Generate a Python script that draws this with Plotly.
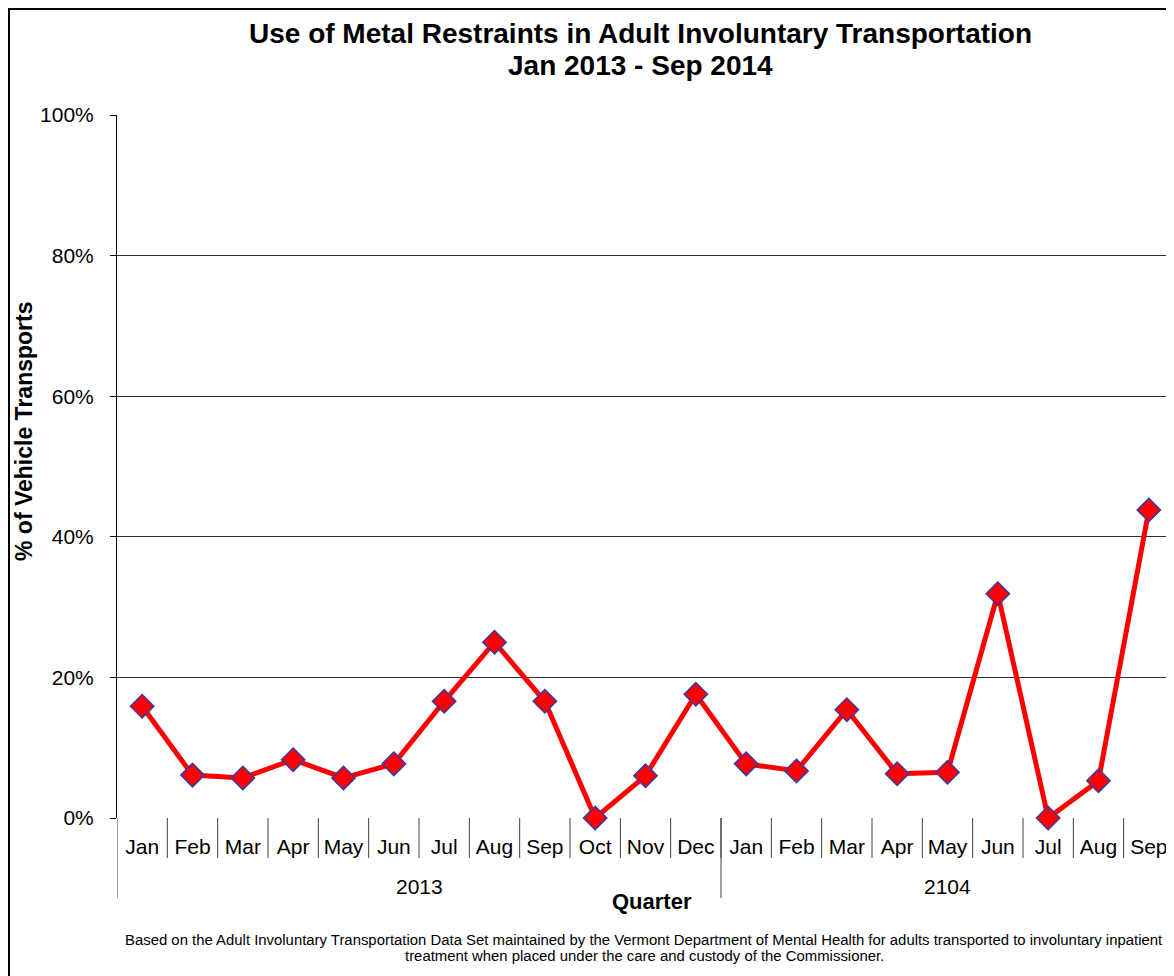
import plotly.graph_objects as go

years = ["2013", "2104"]
year_counts = [12, 9]
months = ["Jan", "Feb", "Mar", "Apr", "May", "Jun", "Jul", "Aug", "Sep", "Oct", "Nov", "Dec",
          "Jan", "Feb", "Mar", "Apr", "May", "Jun", "Jul", "Aug", "Sep"]
pct_metal = [0.159, 0.061, 0.057, 0.083, 0.057, 0.077, 0.166, 0.250, 0.166, 0.0, 0.060, 0.176,
             0.077, 0.067, 0.154, 0.063, 0.065, 0.319, 0.0, 0.053, 0.438]

FONT = "Liberation Sans, Arial, sans-serif"
OFF = 8  # page body margin
L, T, PW, PH = 117 - OFF, 115 - OFF, 1057, 703  # plot area in figure px


def px_x(x):
    # x given in page pixels
    return (x - OFF - L) / PW


def px_y(y):
    return (T + PH - (y - OFF)) / PH


idx = list(range(len(months)))

fig = go.Figure(
    data=go.Scatter(
        x=idx,
        y=pct_metal,
        mode="lines+markers",
        line={"color": "#ff0000", "width": 5},
        marker={"symbol": "diamond", "size": 18, "color": "#ff0000",
                "line": {"color": "#3a3aa0", "width": 1.5}},
        cliponaxis=False,
    )
)

fig.update_layout(
    width=1174, height=976,
    margin={"l": L, "r": 1174 - L - PW, "t": T, "b": 976 - T - PH},
    paper_bgcolor="white", plot_bgcolor="white",
    font={"family": FONT, "color": "black", "size": 21},
    showlegend=False,
)

fig.update_yaxes(
    range=[0, 1], dtick=0.2, tickformat=".0%",
    showgrid=True, gridcolor="#303030", gridwidth=1,
    showline=True, linecolor="black", linewidth=1,
    ticks="outside", ticklen=6, tickcolor="black",
    zeroline=False, tickfont={"size": 21}, ticklabelstandoff=12,
    automargin=False,
)

fig.update_xaxes(
    range=[-0.5, len(months) - 0.5],
    tickvals=idx, ticktext=months, tickangle=0,
    showline=False, showgrid=False, zeroline=False,
    ticks="", tickfont={"size": 21}, ticklabelstandoff=14,
    automargin=False,
)

# month separators below the axis
for i in idx[1:]:
    fig.add_shape(type="line", xref="x", yref="paper", x0=i - 0.5, x1=i - 0.5,
                  y0=0, y1=-40 / PH, line={"color": "#404040", "width": 1})

# year group separators and labels
start = 0
bounds = [-0.5]
for yr, n in zip(years, year_counts):
    fig.add_annotation(text=yr, xref="x", yref="paper", x=start + (n - 1) / 2, y=px_y(886),
                       xanchor="center", yanchor="middle",
                       showarrow=False, font={"size": 21})
    start += n
    bounds.append(start - 0.5)
for b in bounds:
    fig.add_shape(type="line", xref="x", yref="paper", x0=b, x1=b,
                  y0=0, y1=-80 / PH, line={"color": "#404040", "width": 1})


def note(text, x, y, size, angle=0):
    fig.add_annotation(text=text, xref="paper", yref="paper", x=px_x(x), y=px_y(y),
                       xanchor="center", yanchor="middle", textangle=angle,
                       showarrow=False, font={"size": size})


note("<b>Use of Metal Restraints in Adult Involuntary Transportation</b>", 640, 33, 28)
note("<b>Jan 2013 - Sep 2014</b>", 640, 65, 28)
note("<b>% of Vehicle Transports</b>", 24, 432, 23, angle=-90)
note("<b>Quarter</b>", 652, 901, 22)
note("Based on the Adult Involuntary Transportation Data Set maintained by the Vermont Department "
     "of Mental Health for adults transported to involuntary inpatient", 644, 940, 14.9)
note("treatment when placed under the care and custody of the Commissioner.", 644, 956, 14.9)

# outer chart border
fig.add_shape(type="rect", xref="paper", yref="paper",
              x0=px_x(9), x1=px_x(1181), y0=px_y(983), y1=px_y(9),
              line={"color": "black", "width": 2})

fig.write_html("out.html")
